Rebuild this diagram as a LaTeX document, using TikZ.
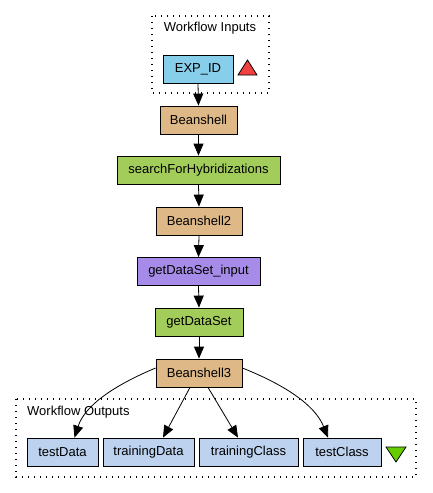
\documentclass[tikz,border=0pt]{standalone}
\usepackage{fontspec}
\setmainfont{Liberation Sans}
\usetikzlibrary{arrows.meta}
\definecolor{skyb}{HTML}{87CEEB}
\definecolor{tan}{HTML}{DEB887}
\definecolor{grn}{HTML}{A2CD5A}
\definecolor{purp}{HTML}{A68BE9}
\definecolor{outb}{HTML}{BCD2EE}
\definecolor{redtri}{HTML}{F04040}
\definecolor{grntri}{HTML}{66CC00}
\begin{document}
\begin{tikzpicture}[x=1pt,y=-1pt,
  box/.style={draw=black, line width=0.8pt, minimum height=28pt, inner sep=0pt, font=\fontsize{13}{15}\selectfont},
  cluster/.style={draw=black, line width=1.2pt, dash pattern=on 1.4pt off 4.6pt},
  arr/.style={-{Triangle[length=12pt,width=10pt]}, line width=0.8pt},
  lbl/.style={font=\fontsize{13}{15}\selectfont, inner sep=0pt}]
\useasboundingbox (0,0) rectangle (432,493);
% clusters
\draw[cluster] (152,16) rectangle (269,93);
\node[lbl] (inlbl) at (210,28) {Workflow Inputs};
\draw[cluster] (16,399) rectangle (416,477);
\node[lbl, anchor=west] (outlbl) at (27,412) {Workflow Outputs};
% nodes
\node[box, fill=skyb, minimum width=70pt] (exp) at (198,69) {EXP\_ID};
\node[box, fill=tan, minimum width=77pt] (b1) at (198.5,120) {Beanshell};
\node[box, fill=grn, minimum width=163pt] (sfh) at (198.5,170) {searchForHybridizations};
\node[box, fill=tan, minimum width=86pt] (b2) at (199,221) {Beanshell2};
\node[box, fill=purp, minimum width=123pt] (gdi) at (198.5,271.5) {getDataSet\_input};
\node[box, fill=grn, minimum width=88pt] (gd) at (199,322) {getDataSet};
\node[box, fill=tan, minimum width=86pt] (b3) at (199,373) {Beanshell3};
\node[box, fill=outb, minimum width=71pt] (td) at (62.5,452) {testData};
\node[box, fill=outb, minimum width=91pt] (trd) at (148.5,452) {trainingData};
\node[box, fill=outb, minimum width=99pt] (trc) at (248.5,452) {trainingClass};
\node[box, fill=outb, minimum width=78pt] (tc) at (342,452) {testClass};
% triangles
\draw[fill=redtri, line width=0.8pt] (238,75) -- (257,75) -- (247.5,60) -- cycle;
\draw[fill=grntri, line width=0.8pt] (386,447) -- (406,447) -- (396,462) -- cycle;
% edges
\draw[arr] (exp.south) -- (b1.north);
\draw[arr] (b1.south) -- (sfh.north);
\draw[arr] (sfh.south) -- (b2.north);
\draw[arr] (b2.south) -- (gdi.north);
\draw[arr] (gdi.south) -- (gd.north);
\draw[arr] (gd.south) -- (b3.north);
\draw[arr] ([yshift=5]b3.west) .. controls (115,385) and (85,405) .. ([xshift=12]td.north);
\draw[arr] ([xshift=-9]b3.south) -- ([xshift=14.5]trd.north);
\draw[arr] ([xshift=9]b3.south) -- ([xshift=-10.5]trc.north);
\draw[arr] ([yshift=5]b3.east) .. controls (285,385) and (315,405) .. ([xshift=-14]tc.north);
\end{tikzpicture}
\end{document}
